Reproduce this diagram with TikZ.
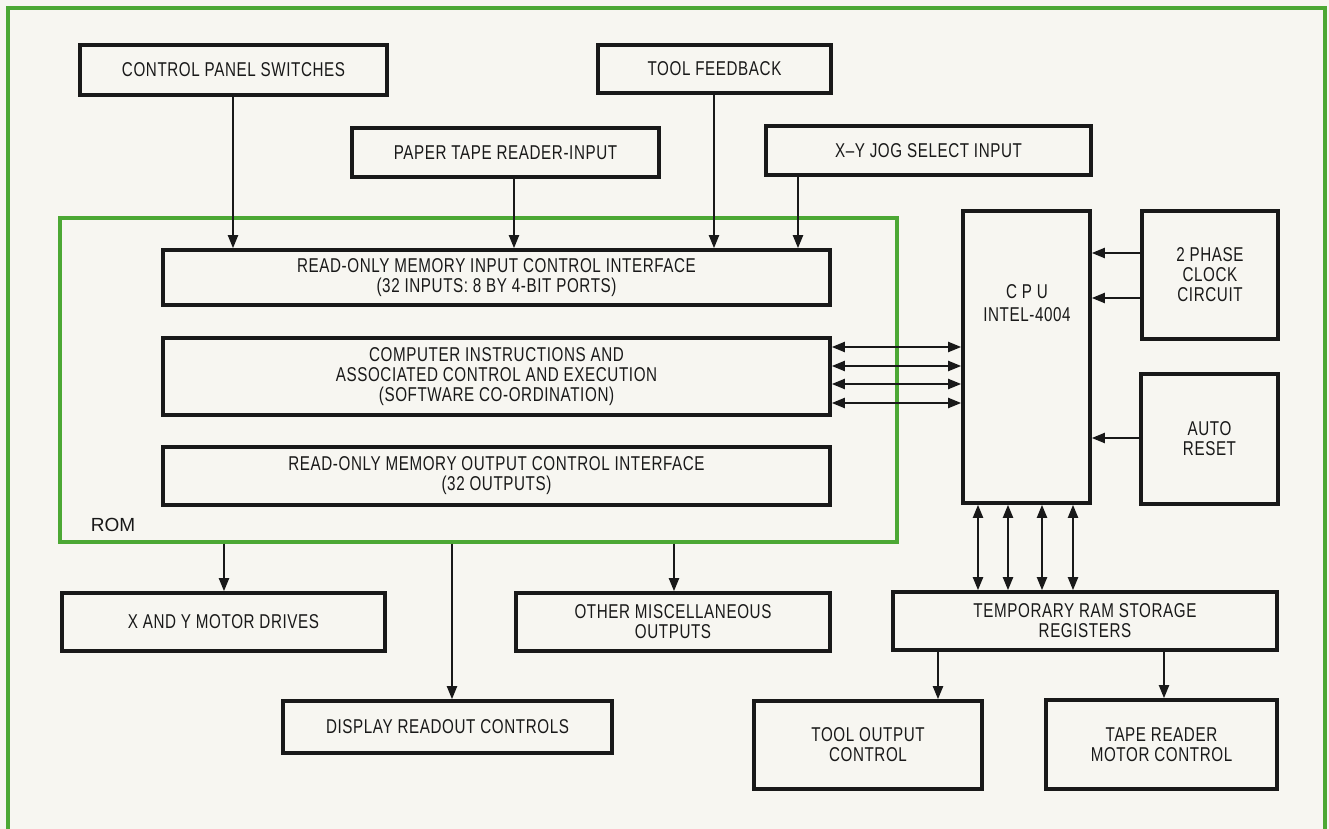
\documentclass[tikz,border=0pt]{standalone}
\usepackage{fontspec}
\setmainfont{Liberation Sans}[FakeStretch=0.76,LetterSpace=3]
\newfontfamily\romfont{Liberation Sans}
\usetikzlibrary{arrows.meta}
\definecolor{frame}{RGB}{76,168,52}
\definecolor{paper}{RGB}{247,246,241}
\definecolor{ink}{RGB}{25,25,25}
\tikzset{
  box/.style={draw=ink, line width=1.8pt, inner sep=0pt, align=center,
    font=\fontsize{10}{10}\selectfont, text=ink},
  txt/.style={inner sep=0pt, align=center, font=\fontsize{10}{11.5}\selectfont, text=ink},
  arr/.style={draw=ink, line width=1pt, -{Triangle[length=6.5pt,width=5pt]}},
  biarr/.style={draw=ink, line width=1pt,
    {Triangle[length=6.5pt,width=5pt]}-{Triangle[length=6.5pt,width=5pt]}},
  rombox/.style={draw=frame, line width=1.7pt, inner sep=0pt},
}
\newcommand{\mybox}[7][box]{\node[#1, minimum width={(#5-#3)*0.5pt},
  minimum height={(#6-#4)*0.5pt}] (#2) at ({(#3+#5)/2},{(#4+#6)/2}) {#7};}
\begin{document}
\begin{tikzpicture}[x=0.5pt,y=-0.5pt]
\fill[paper] (0,0) rectangle (1329,829);
\useasboundingbox (0,0) rectangle (1329,829);
\draw[frame, line width=1.7pt] (8,829) -- (8,8) -- (1325,8) -- (1325,829);

% ROM region
\mybox[rombox]{rom}{60}{218}{897}{542}{}
\node[txt, font=\romfont\fontsize{9.5}{10}\selectfont] (romlbl) at (113,525) {ROM};

% inputs
\mybox{cps}{80}{45}{387}{95}{CONTROL PANEL SWITCHES}
\mybox{ptr}{352}{128}{659}{177}{PAPER TAPE READER-INPUT}
\mybox{tf}{598}{45}{831}{93}{TOOL FEEDBACK}
\mybox{xy}{766}{126}{1091}{175}{X--Y JOG SELECT INPUT}

% ROM internals
\mybox{rin}{163}{250}{830}{305}{READ-ONLY MEMORY INPUT CONTROL INTERFACE\\(32 INPUTS: 8 BY 4-BIT PORTS)}
\mybox{cpi}{163}{338}{830}{415}{COMPUTER INSTRUCTIONS AND\\ASSOCIATED CONTROL AND EXECUTION\\(SOFTWARE CO-ORDINATION)}
\mybox{rout}{163}{447}{830}{505}{READ-ONLY MEMORY OUTPUT CONTROL INTERFACE\\(32 OUTPUTS)}

% CPU side
\mybox{cpu}{963}{211}{1090}{503}{}
\node[txt] (cputxt) at (1027,303) {C P U\\INTEL-4004};
\mybox{clk}{1142}{211}{1278}{339}{2 PHASE\\CLOCK\\CIRCUIT}
\mybox{ar}{1141}{374}{1278}{504}{AUTO\\RESET}
\mybox{ram}{893}{592}{1277}{650}{TEMPORARY RAM STORAGE\\REGISTERS}
\mybox{toc}{754}{701}{982}{789}{TOOL OUTPUT\\CONTROL}
\mybox{trm}{1046}{700}{1277}{789}{TAPE READER\\MOTOR CONTROL}

% outputs
\mybox{xym}{62}{593}{385}{651}{X AND Y MOTOR DRIVES}
\mybox{misc}{516}{593}{830}{651}{OTHER MISCELLANEOUS\\OUTPUTS}
\mybox{disp}{283}{701}{612}{753}{DISPLAY READOUT CONTROLS}

% input arrows
\draw[arr] (cps.south -| 233,0) -- (rin.north -| 233,0);
\draw[arr] (ptr.south -| 514,0) -- (rin.north -| 514,0);
\draw[arr] (tf.south -| 714,0) -- (rin.north -| 714,0);
\draw[arr] (xy.south -| 798,0) -- (rin.north -| 798,0);

% ROM <-> CPU buses
\foreach \yy in {347,366,384,403}
  \draw[biarr] (cpi.east |- 0,\yy) -- (cpu.west |- 0,\yy);

% clock and reset
\draw[arr] (clk.west |- 0,253) -- (cpu.east |- 0,253);
\draw[arr] (clk.west |- 0,298) -- (cpu.east |- 0,298);
\draw[arr] (ar.west |- 0,438) -- (cpu.east |- 0,438);

% CPU <-> RAM
\foreach \xx in {978,1008,1042,1073}
  \draw[biarr] (cpu.south -| \xx,0) -- (ram.north -| \xx,0);

% RAM outputs
\draw[arr] (ram.south -| 938,0) -- (toc.north -| 938,0);
\draw[arr] (ram.south -| 1164,0) -- (trm.north -| 1164,0);

% ROM outputs
\draw[arr] (rom.south -| 224,0) -- (xym.north -| 224,0);
\draw[arr] (rom.south -| 674,0) -- (misc.north -| 674,0);
\draw[arr] (rom.south -| 452,0) -- (disp.north -| 452,0);
\end{tikzpicture}
\end{document}
